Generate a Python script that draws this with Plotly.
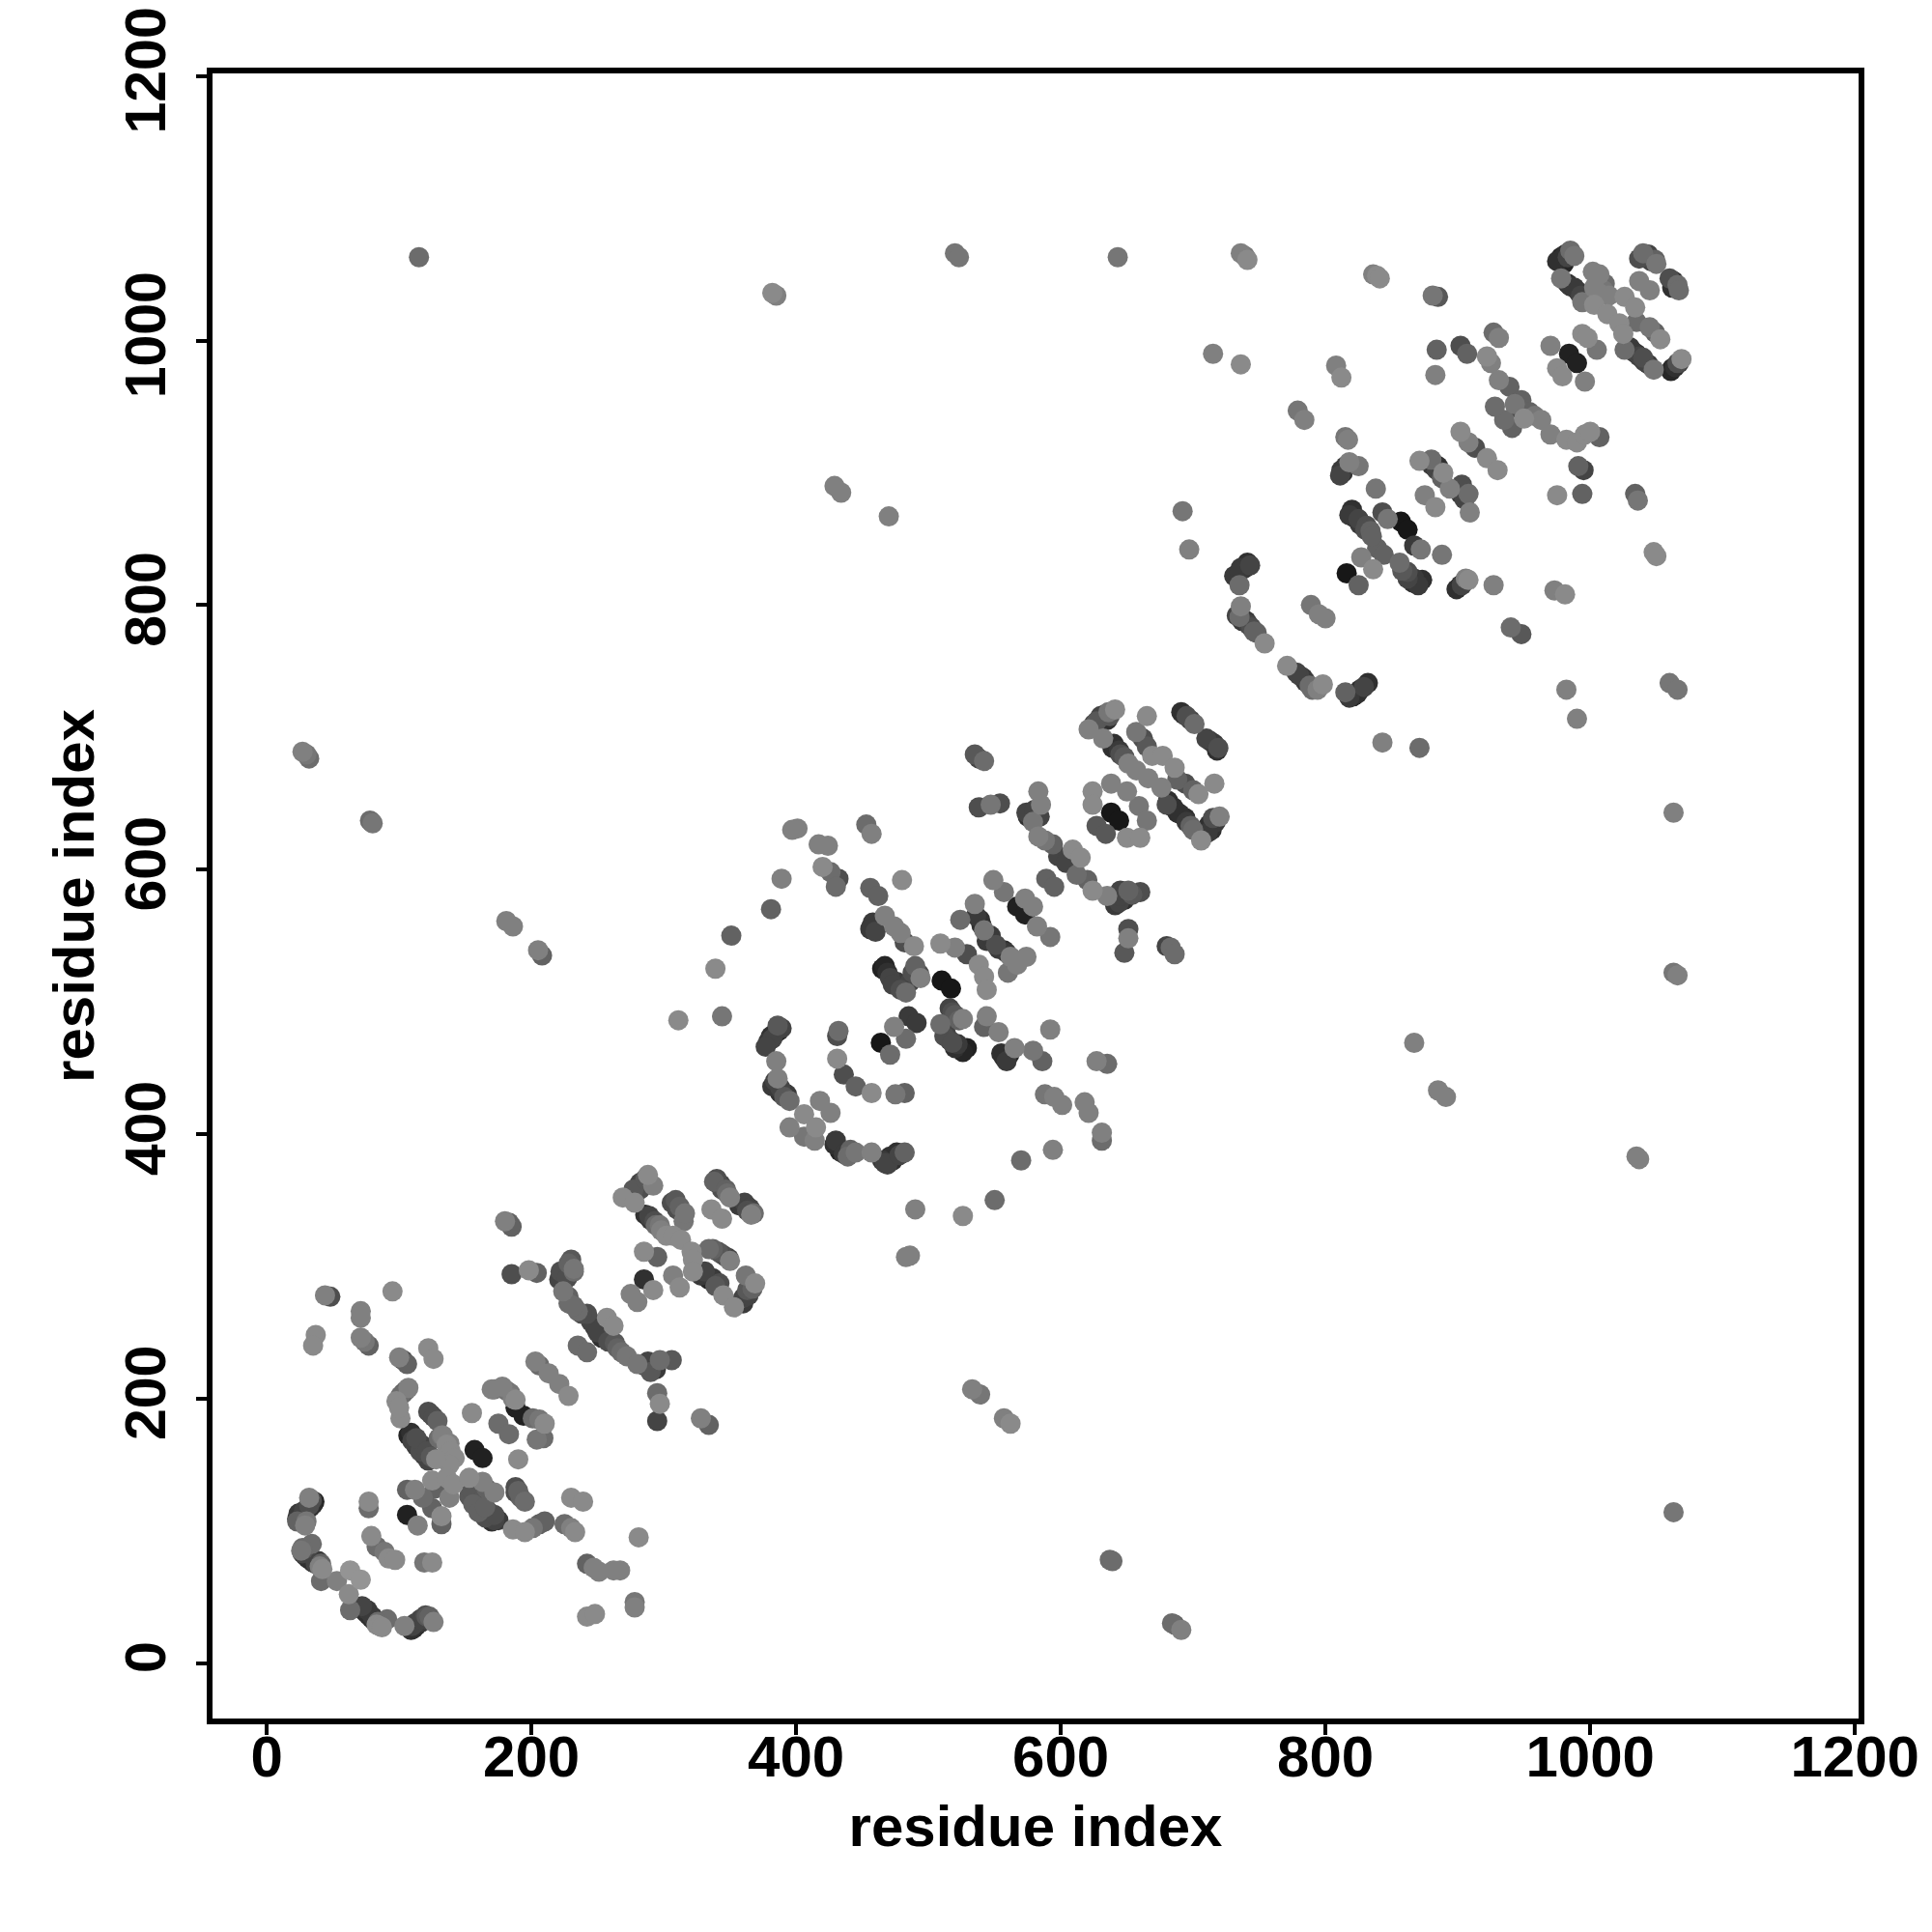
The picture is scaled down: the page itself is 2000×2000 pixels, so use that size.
import plotly.graph_objects as go

tick_values = [0, 200, 400, 600, 800, 1000, 1200]

lower_i = [23,25,27,29,31,33,35,32,29,30, 26,34,27,29,31,33,35,37,40,42,
 41,53,63,71,62,63,71,73,75,77,79,81,83,85,91,104,
 109,111,113,115,117,119,121,126,
 77,77,79,83,92,97,89,119,125,95,44,48,71,71,71,77,74,37,35,100,106,103,122,126,
 98,101,103,105,107,101,100,122,124,126,129,
 107,110,113,116,119,122,132,134,136,139,142,138,128,157,163,155,
 170,178,172,181,184,186,188,188,194,201,206,210,209,204,175,183,190,
 203,213,221,228,206,183,185,180,185,198,204,
 230,232,226,221,224,228,235,242,248,253,257,262,263,268,272,280,289,292,297,306,235,242,
 295,297,295,328,334,
 282,288,292,277,269,278,286,290,294,298,302,
 306,310,315,307,313,321,322,285,295,285,292,275,280,307,312,
 338,340,344,348,350,357,363,366,336,344,
 334,341,347,350,328,334,339,345,353,360,363,369,362,322,
 106,112,118,127,125,132,132,138,125,136,141,106,114,
 153,163,166,172,153,156,160,165,170,172,
 188,192,186,195,201,206,210,225,230,233,230,239,281,242,247,251,262,267,278,278,242,248,138]
lower_j = [109,111,112,114,116,118,120,125,104,107, 85,90,83,81,79,78,76,75,73,71,
 62,62,70,63,52,40,41,40,38,36,34,32,29,28,33,28,
 25,26,28,30,31,33,35,31,
 122,117,96,88,79,78,84,76,76,281,278,277,266,261,246,240,243,248,240,231,226,229,238,230,
 198,202,204,206,208,185,193,190,188,186,183,
 172,168,164,160,157,153,172,168,165,160,155,150,154,161,155,189,
 207,209,207,206,204,200,199,193,187,185,184,181,170,169,181,173,154,
 228,219,211,202,225,333,330,334,294,297,295,
 305,298,293,290,281,272,266,264,254,246,261,255,242,235,232,226,223,226,229,229,240,235,
 204,196,183,185,180,
 363,369,361,358,352,348,339,335,331,327,323,
 348,343,334,323,320,311,305,311,307,290,282,279,273,293,284,
 364,363,358,355,352,346,342,339,343,336,
 313,311,307,304,293,290,285,278,269,276,282,287,293,296,
 131,131,125,132,117,111,105,125,138,140,135,112,104,
 140,137,132,129,126,120,114,110,107,108,
 129,125,101,99,102,105,107,105,102,99,125,122,95,75,72,69,70,70,46,42,35,37,166]
lower_shade = [50,40,40,40,40,40,35,120,120,110, 110,100,60,40,40,40,40,60,120,130,
 100,120,140,140,130,100,40,40,40,40,40,40,130,130,100,120,
 40,40,40,40,50,60,80,120,
 130,100,130,100,130,130,110,110,130,130,120,70,120,120,120,90,110,130,130,120,90,70,130,130,
 130,100,70,90,120,130,130,70,60,70,90,
 30,60,50,70,50,60,110,100,130,130,130,130,130,25,25,130,
 120,120,110,100,110,120,130,25,25,100,110,130,100,110,100,100,130,
 120,120,120,130,100,90,90,120,70,130,90,
 80,110,60,60,110,100,100,70,50,40,130,130,80,100,110,110,40,60,100,80,100,100,
 100,130,60,120,90,
 60,130,120,80,130,130,40,50,100,120,130,
 70,70,110,130,130,130,130,130,90,40,130,120,120,120,130,
 90,50,70,100,120,50,70,120,130,130,
 100,80,60,120,50,30,80,130,130,60,80,130,110,130,
 90,120,100,90,90,130,90,120,130,130,130,25,120,
 130,120,90,120,80,90,90,70,40,60,
 70,90,130,130,110,90,90,100,120,130,130,130,130,90,120,120,120,120,110,120,130,130,120]

middle_i = [535,542,538,538,554,547,583,585,574,579,579,583,588,594,598,604,609,615,612,620,624,635,644,645,651,660,651,651,648,683,686,680,
 589,595,621,630,636,641,627,635,632,639,645,651,
 665,657,662,665,669,677,657,666,676,686,688,694,700,704,716,
 680,688,694,698,706,712,715,720,691,695,701,710,716,719,
 624,624,638,650,659,665,638,644,627,634,650,660,
 397,401,417,424,420,426,432,430,453,457,456,462,480,389,381,351,339,344,311,
 457,467,474,479,482,489,465,471,479,483,488,494,
 509,520,529,538,542,544,510,517,
 524,535,539,542,544,551,557,562,574,560,567,
 549,557,567,573,573,579,582,592,592,485,491,474,483,464,471,
 509,518,526,512,518,524,529,544,542,553,557,565,579,586,
 432,431,431,436,445,457,475,482,387,382,377,385,
 386,382,388,395,418,426,406,415,395,406,414,429,433,439,445,457,467,471,476,482,
 627,635,588,595,601,618,621,631,631,594,570,550,526,490,486,483]
middle_j = [687,682,684,647,650,649,659,649,643,642,636,625,622,619,610,605,615,609,596,592,584,580,575,580,584,583,555,548,537,541,536,542,
 593,587,706,716,719,721,712,713,699,692,687,680,
 716,704,699,693,686,686,675,669,662,677,668,665,660,657,665,
 649,643,639,633,622,634,639,640,719,716,710,699,695,692,
 659,649,665,659,648,637,643,637,633,627,624,624,
 630,631,619,618,602,598,593,587,634,627,586,580,592,593,570,550,525,489,486,
 557,565,557,552,545,542,525,518,509,507,522,518,
 544,541,536,528,519,509,516,510,
 562,574,562,554,546,543,539,534,534,522,528,
 592,583,572,566,578,572,557,549,479,489,484,481,472,469,460,
 483,492,487,474,469,465,465,489,481,477,458,465,463,455,
 478,474,457,445,436,431,430,431,478,472,466,455,
 442,436,431,425,425,416,415,405,405,398,395,392,387,383,386,386,378,383,386,386,
 455,453,430,428,422,424,416,401,395,388,380,350,338,343,308,307]
middle_shade = [80,100,60,70,70,110,120,120,60,50,110,120,110,90,60,60,130,130,100,90,130,120,60,60,90,70,70,120,80,100,100,60,
 90,90,120,60,110,130,80,40,120,40,70,120,
 130,110,70,80,130,130,120,120,120,130,90,70,90,130,130,
 70,40,40,90,130,40,70,120,40,70,100,60,50,70,
 130,130,120,120,110,110,15,15,80,80,130,130,
 120,120,120,120,130,100,70,100,100,120,90,90,130,120,90,90,130,110,130,
 40,120,120,120,70,130,25,60,70,100,70,120,
 130,120,70,130,130,130,15,15,
 100,120,40,110,50,70,40,120,120,110,120,
 120,110,25,25,120,120,120,110,120,50,50,120,100,15,100,
 100,70,120,70,70,25,25,120,90,120,40,120,110,90,
 100,70,130,70,90,130,110,90,25,60,60,120,
 120,50,40,100,120,120,130,130,120,110,120,40,30,100,110,120,60,40,40,90,
 120,100,110,120,120,120,120,120,100,120,100,100,130,120,120,120]

upper_i = [736,741,739,839,841,836,881,885,978,981,985,1040,1044,1049,1060,1066,1063,1037,1045,
 978,985,991,994,1003,1002,1007,1011,1014,1026,1034,1013,1022,1025,1035,1045,1053,1049,
 994,1005,998,970,984,990,975,979,996,
 1026,1032,1037,1041,1048,1062,1066,1069,
 927,931,922,925,931,939,943,948,954,963,970,982,990,996,1007,1000,935,941,950,
 884,902,907,883,808,812,715,736,779,784,815,817,
 812,818,825,871,880,885,889,902,908,913,922,930,903,908,875,883,909,894,
 991,995,975,994,1034,1036,1048,1050,
 838,820,825,831,834,843,847,857,862,867,872,888,839,844,827,836,856,862,867,873,816,825,
 741,736,731,735,736,735,740,744,748,754,789,800,795,
 771,780,785,790,798,794,815,821,826,832,
 902,908,927,973,981,940,948,982,990,1060,1066,843,871]
upper_j = [1066,1061,1064,1049,1047,1050,1034,1033,1063,1065,1068,1066,1065,1061,1047,1042,1045,1045,1038,
 1047,1041,1037,1029,1027,1052,1050,1043,1034,1033,1025,1020,1013,1005,1014,1010,1001,1006,
 1005,993,1002,996,990,983,979,973,969,
 993,992,988,984,978,979,983,986,
 1006,1002,988,983,970,965,952,955,946,940,929,925,923,929,927,931,940,934,941,
 993,996,990,974,981,972,990,982,947,940,927,925,
 902,908,905,909,910,905,900,931,923,919,911,902,891,884,883,874,870,888,
 905,902,883,884,884,879,840,837,
 888,872,865,860,856,870,865,863,857,845,842,838,843,838,836,827,832,825,820,819,824,815,
 832,828,822,815,799,791,788,783,779,771,800,790,793,
 754,747,742,736,740,736,734,731,736,741,
 815,819,815,811,808,783,778,736,714,741,736,696,692]
upper_shade = [120,130,110,130,130,120,110,80,30,40,100,100,60,90,70,100,40,120,120,
 110,50,40,110,130,120,120,100,120,130,130,130,130,130,100,110,130,90,
 130,110,130,120,25,25,130,130,120,
 100,50,60,60,110,30,70,130,
 100,120,130,120,120,90,110,90,90,120,120,130,130,130,90,130,100,90,130,
 90,70,90,120,120,130,120,130,110,120,110,120,
 50,120,110,130,100,40,130,130,120,70,130,130,70,100,120,130,120,120,
 90,60,130,90,90,110,130,130,
 110,40,60,70,90,70,110,15,15,50,110,110,90,90,120,130,100,70,50,40,15,90,
 40,50,50,100,120,100,50,70,90,130,110,120,120,
 130,60,50,100,130,120,90,30,40,40,
 40,130,120,120,130,100,80,120,120,110,110,120,100]

distant_i = [115,520,523,643,382,385,429,434,470,692,697,27,30,32,79,181,186,205,208,1063,1063,1066,867,885,891,1035,1037,1063,637,639,684,686,691,533,539,557,562]
distant_j = [1063,1066,1063,1063,1036,1034,890,885,867,871,842,689,687,684,636,561,557,539,535,643,522,520,469,433,428,383,381,114,78,77,30,29,25,207,203,185,181]
distant_shade = [100,110,110,110,130,120,120,120,120,110,120,120,110,100,90,120,120,120,90,120,110,120,120,120,120,120,120,110,100,100,100,90,120,120,110,120,130]

dense_low_i = [23,24,28,32,36,34,27,28,39,41,72,76,80,84,87,110,112,116,120,123,109,113,117,121,124,130,133,
 155,158,161,165,168,172,175,188,190,195,78,80,284,282,286,289,293,297,309,312,316,
 340,343,347,361,365,368,337,344,349,331,337,342,360,364,367,222,228,227,232,
 228,232,238,245,250,258,265,285,288,294,290]
dense_low_j = [107,113,115,119,122,123,87,86,77,75,43,40,35,31,27,28,30,33,36,35,174,170,165,160,156,170,172,
 130,126,122,118,114,112,108,133,130,122,637,635,362,358,366,338,334,331,350,345,340,
 366,362,358,348,344,340,313,309,306,296,291,287,272,278,283,296,302,291,296,
 277,270,264,258,250,243,238,225,228,222,220]
dense_low_shade = [90,50,60,70,30,70,100,80,50,90,60,50,50,100,130,60,60,60,70,90,40,70,60,70,80,100,120,
 80,70,80,90,60,70,50,70,90,100,100,110,50,70,80,60,70,110,80,90,110,
 70,60,90,60,60,100,90,70,60,60,50,70,50,60,90,70,90,70,100,
 90,100,70,60,60,70,90,60,60,50,80]

dense_mid_i = [381,384,379,389,386,384,388,391,393,430,436,441,465,469,473,478,458,460,456,467,469,473,476,486,490,493,
 513,516,520,522,526,516,520,523,555,559,561,536,540,547,553,559,565,
 633,637,629,625,640,644,648,681,685,690,695,700,714,717,711,693,698,713,718,645,648,641,654,584,575,580]
dense_mid_j = [474,476,470,480,482,440,435,428,430,395,385,388,380,377,380,384,560,553,555,527,522,513,515,515,527,521,
 477,471,465,468,462,495,490,486,461,455,460,565,558,550,540,537,530,
 717,716,714,710,695,690,685,652,647,642,636,630,630,636,628,717,713,697,690,584,577,573,581,640,640,645]
dense_mid_shade = [40,30,50,60,80,60,60,80,50,50,50,90,50,60,40,60,50,60,50,30,40,60,50,60,90,70,
 60,60,40,50,30,60,80,90,40,50,30,50,40,50,50,50,100,
 50,80,50,60,40,50,80,40,40,40,50,100,40,50,50,40,60,50,40,60,40,50,80,60,40,60]

dense_high_i = [975,980,983,988,983,988,993,1037,1041,1046,1050,1062,1067,1030,1035,1040,1044,1061,1064,1067,1003,1010,1008,
 818,822,826,830,835,815,811,813,880,884,888,902,905,862,866,870,858,899,903,906,
 735,739,743,733,737,742,746,778,783,788,818,824,829,928,950,958,944]
dense_high_j = [1060,1058,1063,1064,1043,1040,1034,1062,1063,1060,1058,1040,1038,995,990,987,982,977,980,983,1040,1038,1035,
 868,866,861,857,852,905,898,900,906,902,896,884,880,820,817,815,826,812,815,820,
 825,828,830,792,788,785,780,749,745,739,730,733,738,950,945,943,949]
dense_high_shade = [40,30,60,110,40,50,60,70,50,60,110,40,100,50,40,70,50,30,40,50,120,110,120,
 50,40,50,70,90,50,60,40,50,60,90,50,60,60,40,50,80,40,60,120,
 50,40,60,60,50,60,90,60,50,100,50,40,60,100,70,110,70]

all_i = lower_i + middle_i + upper_i + distant_i + dense_low_i + dense_mid_i + dense_high_i
all_j = lower_j + middle_j + upper_j + distant_j + dense_low_j + dense_mid_j + dense_high_j
all_shade = lower_shade + middle_shade + upper_shade + distant_shade + dense_low_shade + dense_mid_shade + dense_high_shade
rows = sorted(zip(all_i, all_j, all_shade, strict=True), key=lambda r: r[2])

fig = go.Figure(go.Scatter(
    x=[r[0] for r in rows], y=[r[1] for r in rows], mode="markers",
    marker=dict(size=21, line_width=0,
                color=[f"rgb({r[2]+8},{r[2]+8},{r[2]+8})" for r in rows]),
))
axis = dict(tickmode="array", tickvals=tick_values, ticks="outside", ticklen=11, tickwidth=4,
            tickcolor="black", showline=True, linewidth=6, linecolor="black", mirror=True,
            showgrid=False, zeroline=False, automargin=False, ticklabeloverflow="allow")
title_font = dict(family="Liberation Sans", size=60, weight="bold", color="black")
fig.update_layout(
    width=2000, height=2000, autosize=False, showlegend=False,
    paper_bgcolor="white", plot_bgcolor="white",
    margin=dict(l=212, r=84, t=68, b=229),
    xaxis=dict(axis, range=[-41, 1202.8], ticklabelstandoff=-29,
               tickfont=dict(family="Liberation Sans", size=60, weight="bold", color="black"),
               title=dict(text="residue index", standoff=20, font=title_font)),
    yaxis=dict(axis, range=[-42, 1202], tickangle=-90, ticklabelstandoff=8, ticklabelshift=3,
               tickfont=dict(family="Liberation Sans", size=59, weight="bold", color="black"),
               title=dict(text="residue index", standoff=3, font=title_font)),
)
fig.write_html("out.html")
